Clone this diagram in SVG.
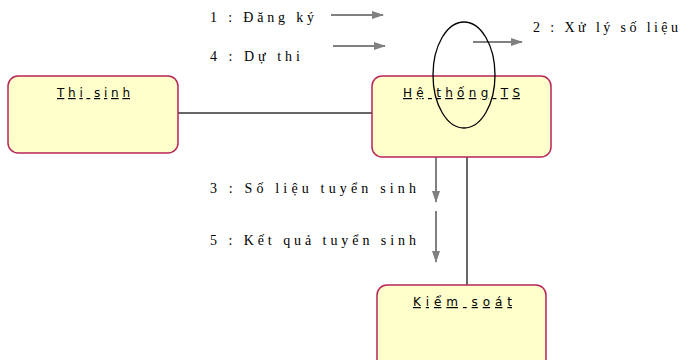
<svg xmlns="http://www.w3.org/2000/svg" width="680" height="360" viewBox="0 0 680 360">
  <style>
    .node { fill: #FFFFCC; stroke: #B8255A; stroke-width: 1.5; }
    .name { font-family: "DejaVu Sans", "Liberation Sans", sans-serif; font-size: 12px; fill: #000; text-decoration: underline; }
    .assoc { stroke: #333; stroke-width: 1.5; fill: none; }
    .msg { stroke: #808080; stroke-width: 2; fill: none; marker-end: url(#head); }
    .lbl { font-family: "Liberation Serif", "DejaVu Serif", serif; font-size: 14px; fill: #000; }
  </style>
  <defs>
    <marker id="head" markerWidth="12" markerHeight="8" refX="11" refY="4" orient="auto" markerUnits="userSpaceOnUse">
      <path d="M0,0 L12,4 L0,8 Z" fill="#808080"/>
    </marker>
  </defs>
  <rect width="680" height="360" fill="#fff"/>

  <!-- associations and messages -->
  <g id="connectors">
    <line class="assoc" x1="178" y1="113" x2="372" y2="113"/>
    <line class="assoc" x1="467" y1="157" x2="467" y2="285"/>
    <line class="msg" x1="331" y1="15" x2="383" y2="15"/>
    <line class="msg" x1="333" y1="46" x2="385" y2="46"/>
    <line class="msg" x1="473" y1="42" x2="522" y2="42"/>
    <line class="msg" x1="436" y1="151" x2="436" y2="202"/>
    <line class="msg" x1="436" y1="211" x2="436" y2="262"/>
    <text class="lbl" x="210" y="22" textLength="104" lengthAdjust="spacing">1 : Đăng ký</text>
    <text class="lbl" x="210" y="61" textLength="90" lengthAdjust="spacing">4 : Dự thi</text>
    <text class="lbl" x="533" y="32" textLength="145" lengthAdjust="spacing">2 : Xử lý số liệu</text>
    <text class="lbl" x="210" y="193" textLength="206" lengthAdjust="spacing">3 : Số liệu tuyển sinh</text>
    <text class="lbl" x="210" y="245" textLength="206" lengthAdjust="spacing">5 : Kết quả tuyển sinh</text>
  </g>

  <g id="thi-sinh">
    <rect class="node" x="8" y="76" width="170" height="77" rx="10"/>
    <text class="name" x="57" y="97" textLength="73" lengthAdjust="spacing">Thi sinh</text>
  </g>

  <g id="he-thong-ts">
    <rect class="node" x="372" y="76" width="179" height="81" rx="10"/>
    <text class="name" x="403" y="97" textLength="117" lengthAdjust="spacing">Hệ thống TS</text>
  </g>

  <g id="kiem-soat">
    <rect class="node" x="377" y="285" width="169" height="85" rx="10"/>
    <text class="name" x="413" y="306" textLength="99" lengthAdjust="spacing">Kiểm soát</text>
  </g>

  <!-- self-message loop on the system node -->
  <ellipse cx="464" cy="75" rx="31" ry="53" fill="none" stroke="#000" stroke-width="1.3"/>
</svg>
